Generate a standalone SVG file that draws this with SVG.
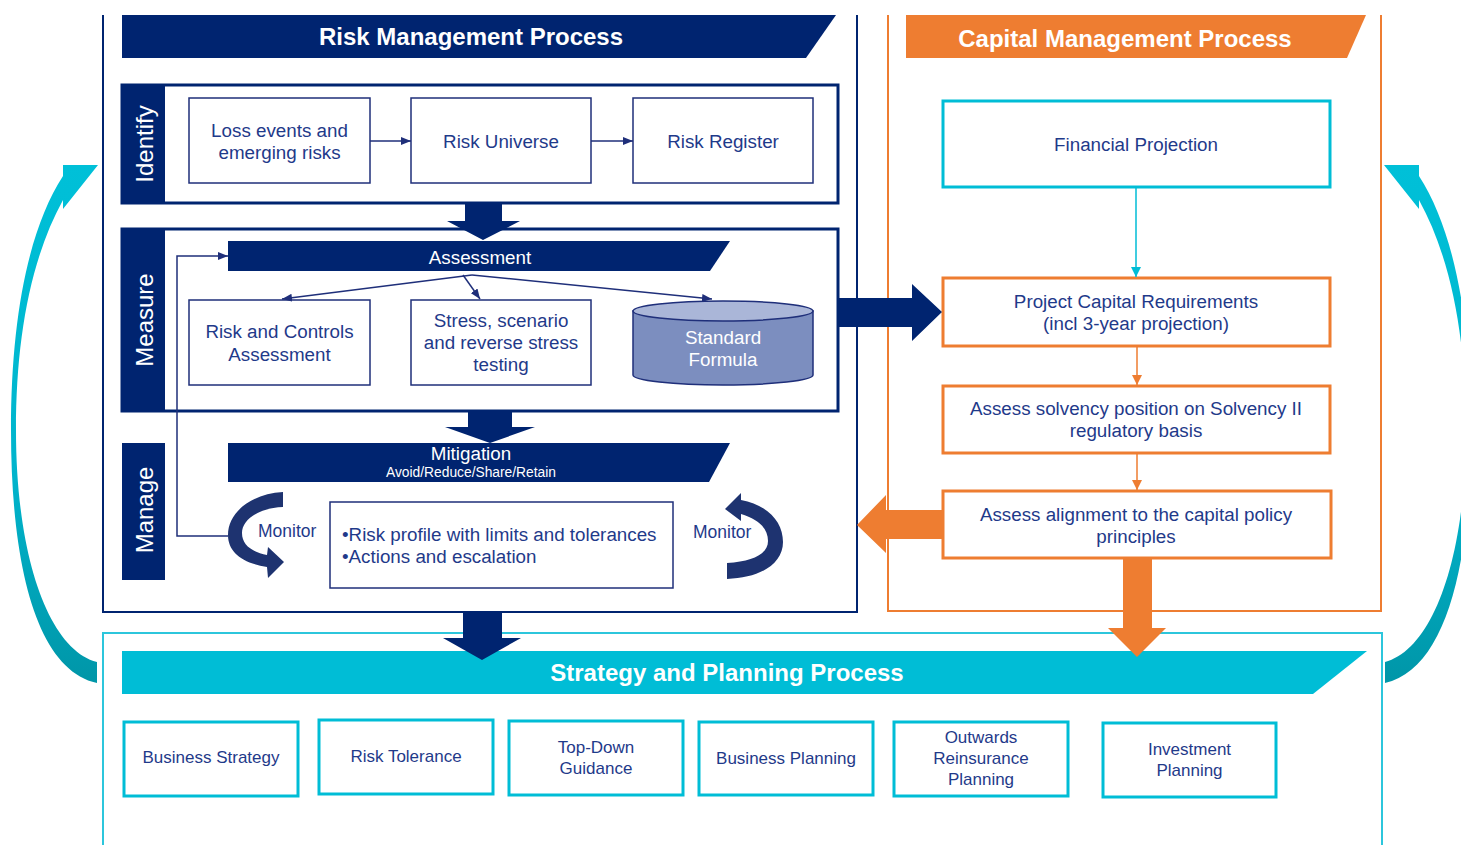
<svg xmlns="http://www.w3.org/2000/svg" width="1461" height="845" viewBox="0 0 1461 845">
<style>
.t{font-family:"Liberation Sans",Arial,sans-serif;font-size:18.8px;fill:#1F3A8A;text-anchor:middle}
.s{font-size:17px}
.w{fill:#ffffff}
.h{font-family:"Liberation Sans",Arial,sans-serif;font-size:24px;font-weight:bold;fill:#ffffff;text-anchor:middle}
.v{font-family:"Liberation Sans",Arial,sans-serif;font-size:24px;fill:#ffffff;text-anchor:middle}
.nb{fill:#ffffff;stroke:#1F2F7A;stroke-width:1.5}
.ob{fill:#ffffff;stroke:#EE7D31;stroke-width:3}
.cb{fill:#ffffff;stroke:#00BDD6;stroke-width:3}
.navy{fill:#002470}
.band{fill:#ffffff;stroke:#002470;stroke-width:3}
.ln{fill:none;stroke:#1F2F7A;stroke-width:1.5}
</style>
<defs>
<marker id="an" markerUnits="userSpaceOnUse" markerWidth="10" markerHeight="8" refX="10" refY="4" orient="auto"><path d="M0,0 L10,4 L0,8 Z" fill="#1F2F7A"/></marker>
<marker id="ac" markerUnits="userSpaceOnUse" markerWidth="10" markerHeight="10" refX="10" refY="5" orient="auto"><path d="M0,0 L10,5 L0,10 Z" fill="#00BDD6"/></marker>
<marker id="ao" markerUnits="userSpaceOnUse" markerWidth="10" markerHeight="10" refX="10" refY="5" orient="auto"><path d="M0,0 L10,5 L0,10 Z" fill="#EE7D31"/></marker>
<linearGradient id="cg" gradientUnits="userSpaceOnUse" x1="0" y1="165" x2="0" y2="683"><stop offset="0" stop-color="#00C0D8"/><stop offset="0.6" stop-color="#00B4CC"/><stop offset="1" stop-color="#0096A8"/></linearGradient>
</defs>

<g id="frames">
<path d="M103,15 L103,612 L857,612 L857,15" fill="none" stroke="#002470" stroke-width="2"/>
<path d="M888,15 L888,611 L1381,611 L1381,15" fill="none" stroke="#EE7D31" stroke-width="2"/>
<path d="M103,845 L103,633 L1382,633 L1382,845" fill="none" stroke="#2CC6DC" stroke-width="2"/>
</g>

<g id="risk-header">
<polygon class="navy" points="122,15 836,15 806,58 122,58"/>
<text class="h" x="471" y="45">Risk Management Process</text>
</g>

<g id="identify">
<rect class="band" x="122" y="85" width="716" height="118"/>
<rect class="navy" x="122" y="85" width="43" height="118"/>
<text class="v" transform="translate(145,144) rotate(-90)" y="8.4">Identify</text>
</g>
<g id="loss-events"><rect class="nb" x="189" y="98" width="181" height="85"/><text class="t" x="279.5" y="137">Loss events and</text><text class="t" x="279.5" y="159">emerging risks</text></g>
<g id="risk-universe"><rect class="nb" x="411" y="98" width="180" height="85"/><text class="t" x="501" y="148">Risk Universe</text></g>
<g id="risk-register"><rect class="nb" x="633" y="98" width="180" height="85"/><text class="t" x="723" y="148">Risk Register</text></g>

<g id="measure">
<rect class="band" x="122" y="229" width="716" height="182"/>
<rect class="navy" x="122" y="229" width="43" height="182"/>
<text class="v" transform="translate(145,320) rotate(-90)" y="8.4">Measure</text>
</g>
<g id="assessment"><polygon class="navy" points="228,241 730,241 710,271 228,271"/><text class="t w" x="480" y="263.5">Assessment</text></g>
<g id="risk-controls"><rect class="nb" x="189" y="300" width="181" height="85"/><text class="t" x="279.5" y="337.5">Risk and Controls</text><text class="t" x="279.5" y="360.5">Assessment</text></g>
<g id="stress"><rect class="nb" x="411" y="300" width="180" height="85"/><text class="t" x="501" y="326.5">Stress, scenario</text><text class="t" x="501" y="348.5">and reverse stress</text><text class="t" x="501" y="370.5">testing</text></g>
<g id="standard-formula">
<path d="M633,311 L633,375 A90,10 0 0 0 813,375 L813,311 Z" fill="#7C8EBF" stroke="#1F2F7A" stroke-width="1.5"/>
<ellipse cx="723" cy="311" rx="90" ry="10" fill="#AAB6D8" stroke="#1F2F7A" stroke-width="1.5"/>
<text class="t w" x="723" y="343.5">Standard</text><text class="t w" x="723" y="365.5">Formula</text>
</g>

<g id="manage">
<rect class="navy" x="122" y="443" width="43" height="137"/>
<text class="v" transform="translate(145,510) rotate(-90)" y="8.4">Manage</text>
</g>
<g id="mitigation"><polygon class="navy" points="228,443 730,443 709,482 228,482"/><text class="t w" x="471" y="459.5">Mitigation</text><text class="t w" x="471" y="477" style="font-size:13.8px">Avoid/Reduce/Share/Retain</text></g>
<g id="monitor-left">
<path d="M283,492 C250,494 228,513 228,535 C228,552 242,563 267,567 L268,578 L284,562 L268,547 L267,555 C252,552 242,545 242,533 C242,520 258,508 283,507 Z" fill="#1E3370"/>
<text class="t" x="258" y="537" style="font-size:17.5px;text-anchor:start">Monitor</text>
</g>
<g id="risk-profile"><rect class="nb" x="330" y="502" width="343" height="86"/><text class="t" x="342" y="540.6" style="text-anchor:start">•Risk profile with limits and tolerances</text><text class="t" x="342" y="562.6" style="text-anchor:start">•Actions and escalation</text></g>
<g id="monitor-right">
<path d="M725,509 L741,493 L741,500 C768,505 783,522 783,542 C783,564 760,578 727,579 L727,563 C755,561 768,553 768,541 C768,528 758,519 741,514 L741,521 Z" fill="#1E3370"/>
<text class="t" x="693" y="538" style="font-size:17.5px;text-anchor:start">Monitor</text>
</g>

<g id="capital-header">
<polygon points="906,15 1366,15 1347,58 906,58" fill="#EE7D31"/>
<text class="h" x="1125" y="47.4">Capital Management Process</text>
</g>
<g id="financial-projection"><rect class="cb" x="943" y="101" width="387" height="86"/><text class="t" x="1136" y="150.6">Financial Projection</text></g>
<g id="project-capital"><rect class="ob" x="943" y="278" width="387" height="68"/><text class="t" x="1136" y="307.6">Project Capital Requirements</text><text class="t" x="1136" y="329.6">(incl 3-year projection)</text></g>
<g id="assess-solvency"><rect class="ob" x="943" y="386" width="387" height="67"/><text class="t" x="1136" y="414.6">Assess solvency position on Solvency II</text><text class="t" x="1136" y="436.6">regulatory basis</text></g>
<g id="assess-alignment"><rect class="ob" x="943" y="491" width="388" height="67"/><text class="t" x="1136" y="520.6">Assess alignment to the capital policy</text><text class="t" x="1136" y="542.6">principles</text></g>

<g id="strategy-header">
<polygon points="122,651 1367,651 1313,694 122,694" fill="#00BDD6"/>
<text class="h" x="727" y="681.4">Strategy and Planning Process</text>
</g>
<g id="business-strategy"><rect class="cb" x="124" y="722" width="174" height="74"/><text class="t s" x="211" y="763">Business Strategy</text></g>
<g id="risk-tolerance"><rect class="cb" x="319" y="720" width="174" height="74"/><text class="t s" x="406" y="762">Risk Tolerance</text></g>
<g id="top-down"><rect class="cb" x="509" y="721" width="174" height="74"/><text class="t s" x="596" y="753">Top-Down</text><text class="t s" x="596" y="774">Guidance</text></g>
<g id="business-planning"><rect class="cb" x="699" y="722" width="174" height="73"/><text class="t s" x="786" y="764">Business Planning</text></g>
<g id="outwards-reinsurance"><rect class="cb" x="894" y="722" width="174" height="74"/><text class="t s" x="981" y="743">Outwards</text><text class="t s" x="981" y="764">Reinsurance</text><text class="t s" x="981" y="785">Planning</text></g>
<g id="investment-planning"><rect class="cb" x="1103" y="723" width="173" height="74"/><text class="t s" x="1189.5" y="755">Investment</text><text class="t s" x="1189.5" y="776">Planning</text></g>

<g id="connectors">
<line class="ln" x1="370" y1="141" x2="411" y2="141" marker-end="url(#an)"/>
<line class="ln" x1="591" y1="141" x2="633" y2="141" marker-end="url(#an)"/>
<line class="ln" x1="472" y1="275" x2="282" y2="299" marker-end="url(#an)"/>
<line class="ln" x1="463" y1="275" x2="480" y2="299" marker-end="url(#an)"/>
<line class="ln" x1="472" y1="275" x2="712" y2="299" marker-end="url(#an)"/>
<polyline class="ln" points="228,536 177,536 177,256 228,256" marker-end="url(#an)"/>
<line x1="1136" y1="187" x2="1136" y2="277" stroke="#00BDD6" stroke-width="1.5" marker-end="url(#ac)"/>
<line x1="1137" y1="346" x2="1137" y2="385" stroke="#EE7D31" stroke-width="1.5" marker-end="url(#ao)"/>
<line x1="1137" y1="453" x2="1137" y2="490" stroke="#EE7D31" stroke-width="1.5" marker-end="url(#ao)"/>
<polygon class="navy" points="465,203 502,203 502,221 520,221 483,240 447,221 465,221"/>
<polygon class="navy" points="468,411 512,411 512,427 535,427 490,443 445,427 468,427"/>
<polygon class="navy" points="463,612 502,612 502,638 521,638 482,660 443,638 463,638"/>
<polygon class="navy" points="838,298 912,298 912,284 942,312 912,341 912,327 838,327"/>
<polygon fill="#EE7D31" points="942,510 886,510 886,495 857,525 886,553 886,539 942,539"/>
<polygon fill="#EE7D31" points="1123,559 1152,559 1152,628 1166,628 1137,657 1108,628 1123,628"/>
<path d="M98,165 L63,209 L63,200 C30,260 16,340 16,430 C16,560 50,650 97,662 L97,683 C38,670 11,570 11,430 C11,320 28,230 63,176 L63,165 Z" fill="url(#cg)"/>
<path d="M1384,165 L1419,209 L1419,200 C1452,260 1466,340 1466,430 C1466,560 1432,650 1385,662 L1385,683 C1444,670 1471,570 1471,430 C1471,320 1454,230 1419,176 L1419,165 Z" fill="url(#cg)"/>
</g>
</svg>
